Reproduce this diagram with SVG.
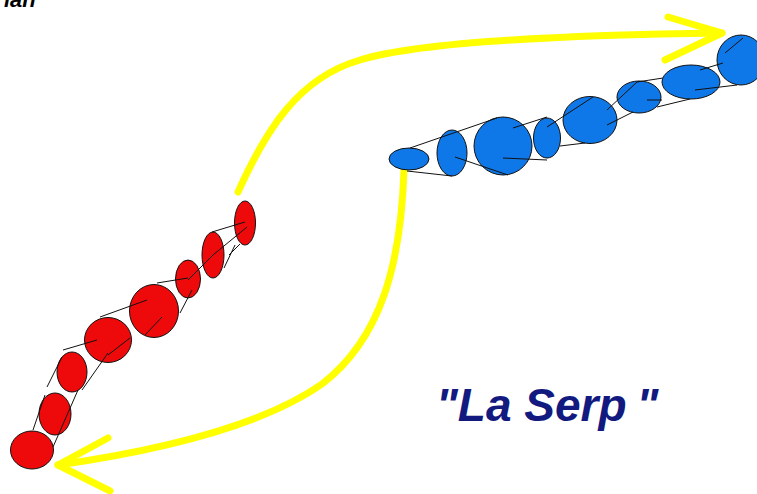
<svg xmlns="http://www.w3.org/2000/svg" width="757" height="494" viewBox="0 0 757 494">
<style>
.blue{fill:#0f78e8;stroke:#111;stroke-width:1}
.red{fill:#ee0a0a;stroke:#111;stroke-width:1}
.ln{stroke:#111;stroke-width:1;fill:none}
.yel{stroke:#ffff00;stroke-width:7;fill:none;stroke-linecap:round;stroke-linejoin:round}
.title{font-family:"Liberation Sans",Arial,sans-serif;font-weight:bold;font-style:italic;font-size:46px;fill:#121a80}
.frag{font-family:"Liberation Sans",Arial,sans-serif;font-weight:bold;font-style:italic;font-size:22px;fill:#000}
</style>
<rect width="757" height="494" fill="#fff"/>
<text class="frag" x="4" y="7">ian</text>
<g id="connectors">
<path class="yel" d="M238,192 C266,130 298,78 360,60 C420,42 560,35 722,33"/>
<path class="yel" d="M668,17 L722,33 L665,60"/>
<path class="yel" d="M404,170 C401,262 382,338 322,384 C262,426 162,450 58,465"/>
<path class="yel" d="M108,438 L58,465 L110,491"/>
</g>
<g id="blue-snake">
<ellipse id="b1" class="blue" cx="409" cy="159" rx="20" ry="11"/>
<ellipse id="b2" class="blue" cx="452" cy="153" rx="15" ry="23"/>
<ellipse id="b3" class="blue" cx="503" cy="146" rx="29" ry="29"/>
<ellipse id="b4" class="blue" cx="547" cy="138" rx="13.5" ry="20"/>
<ellipse id="b5" class="blue" cx="590" cy="120" rx="27" ry="23.5"/>
<ellipse id="b6" class="blue" cx="639" cy="97" rx="22" ry="16"/>
<ellipse id="b7" class="blue" cx="691" cy="82" rx="29" ry="17"/>
<ellipse id="b8" class="blue" cx="741" cy="60" rx="24" ry="25"/>
<path class="ln" d="M410,148 L497,118 M407,171 L452,176 M455,157 L508,175 M503,158 L547,160 M513,128 L547,117 M547,127 L593,97 M560,146 L585,143 M607,125 L633,112 M607,110 L637,82 M637,82 L663,78 M647,100 L662,100 M695,90 L737,85 M700,70 L723,63 M725,53 L743,38 M657,107 L690,99"/>
</g>
<g id="red-snake">
<ellipse id="r1" class="red" cx="245" cy="223" rx="10.5" ry="22"/>
<ellipse id="r2" class="red" cx="213" cy="255" rx="11" ry="23"/>
<ellipse id="r3" class="red" cx="188" cy="279" rx="12.5" ry="19"/>
<ellipse id="r4" class="red" cx="154" cy="311" rx="24.5" ry="26.5"/>
<ellipse id="r5" class="red" cx="108" cy="340" rx="23.5" ry="22.5"/>
<ellipse id="r6" class="red" cx="72" cy="372" rx="15" ry="20"/>
<ellipse id="r7" class="red" cx="55" cy="414" rx="16" ry="21"/>
<ellipse id="r8" class="red" cx="32" cy="450" rx="21.5" ry="19"/>
<path class="ln" d="M212,232 L245,222 M213,255 L247,227 M224,268 L235,245 M188,280 L213,255 M157,283 L188,278 M100,317 L147,300 M180,313 L192,290 M145,335 L162,317 M108,355 L130,338 M63,350 L97,340 M82,390 L108,353 M47,387 L62,357 M33,430 L45,395 M53,447 L78,390 M229,255 L240,244"/>
</g>
<text class="title" x="436" y="421">"La Serp<tspan dx="10">"</tspan></text>
</svg>
